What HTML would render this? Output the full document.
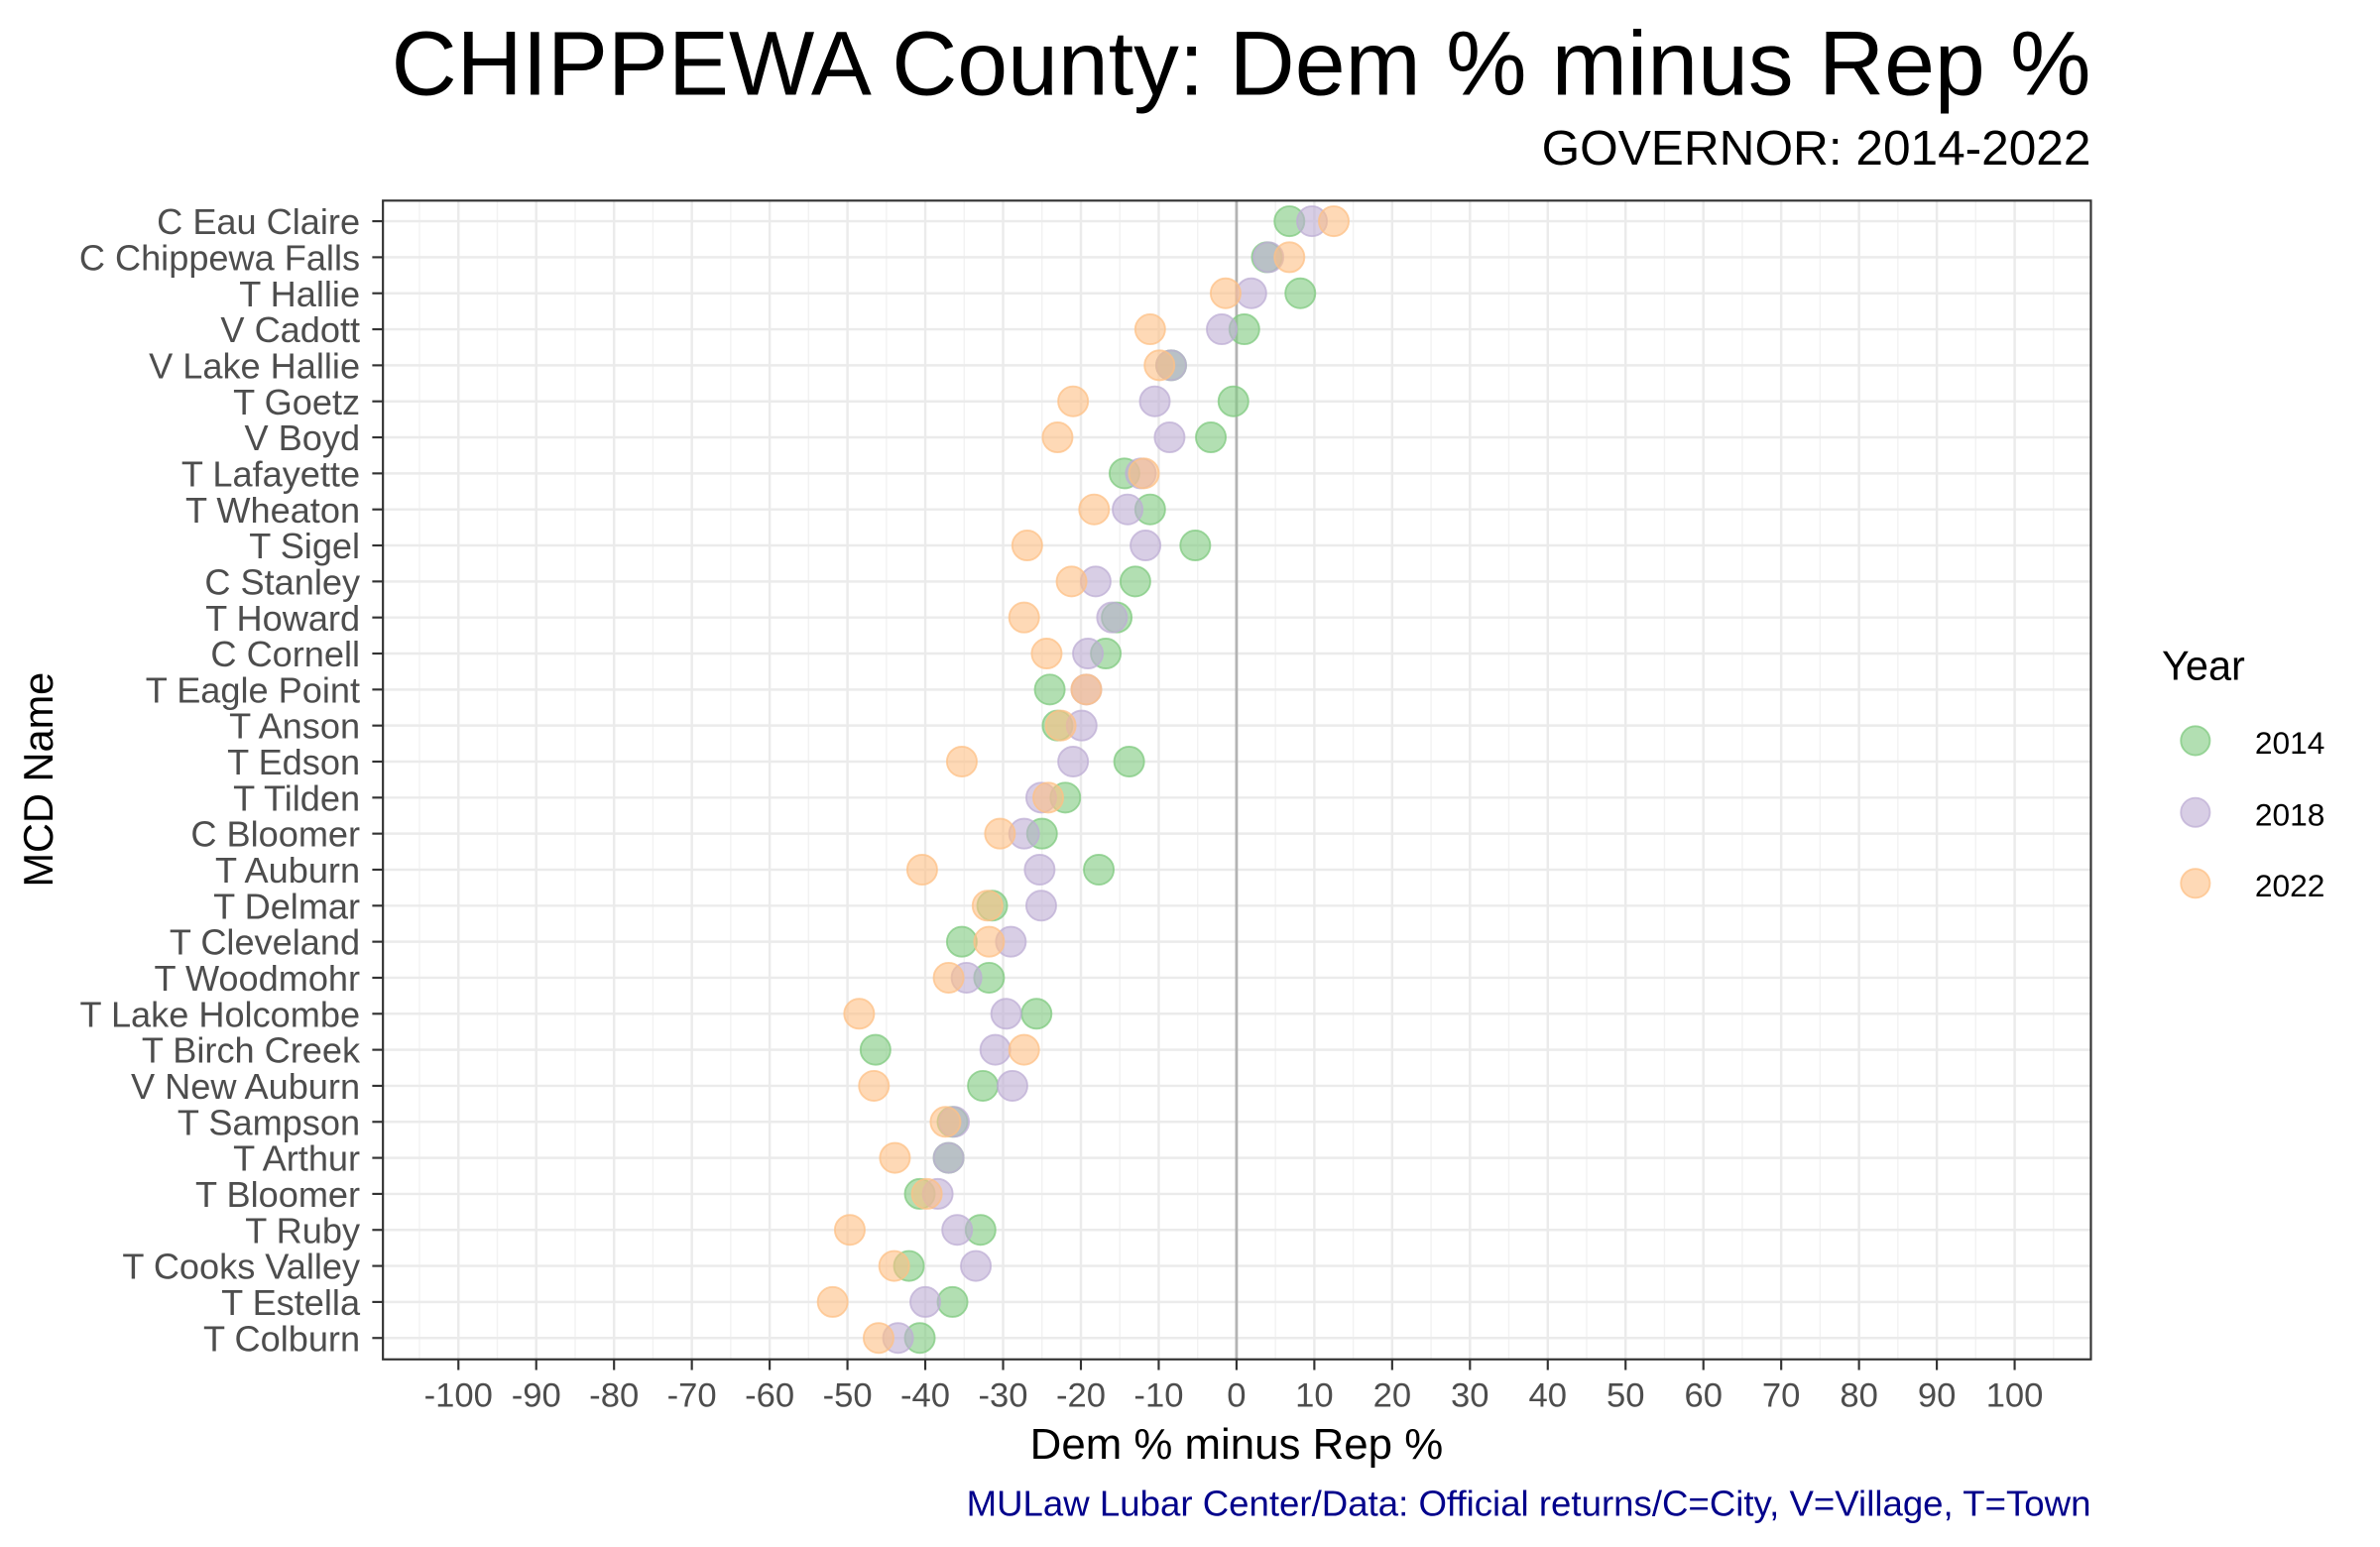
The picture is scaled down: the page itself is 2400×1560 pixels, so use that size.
<!DOCTYPE html>
<html><head><meta charset="utf-8">
<style>
html,body{margin:0;padding:0;background:#fff;}
svg{display:block;font-family:"Liberation Sans",Arial,sans-serif;}
</style></head>
<body>
<svg id="chart" width="2400" height="1560" viewBox="0 0 1560 1014" xmlns="http://www.w3.org/2000/svg">
<rect width="1560" height="1014" fill="#fff"/>
<text x="1370.5" y="62" text-anchor="end" font-size="60" fill="#000" textLength="1114" lengthAdjust="spacingAndGlyphs">CHIPPEWA County: Dem % minus Rep %</text>
<text x="1370.5" y="108" text-anchor="end" font-size="32" fill="#000" textLength="360" lengthAdjust="spacingAndGlyphs">GOVERNOR: 2014-2022</text>
<g id="grid"></g>
<g id="marks"></g>
<g id="axes"></g>
<text x="810.5" y="956" text-anchor="middle" font-size="28.5" fill="#000">Dem % minus Rep %</text>
<text transform="translate(34.5,511) rotate(-90)" text-anchor="middle" font-size="27" fill="#000">MCD Name</text>
<g>
<text x="1417" y="445.5" font-size="27" fill="#000">Year</text>
<circle cx="1439" cy="485.5" r="9.5" fill="#7FC97F" fill-opacity="0.6" stroke="#7FC97F" stroke-opacity="0.75" stroke-width="1.2"/>
<text x="1478" y="494" font-size="20.6" fill="#000">2014</text>
<circle cx="1439" cy="532.5" r="9.5" fill="#BEAED4" fill-opacity="0.6" stroke="#BEAED4" stroke-opacity="0.75" stroke-width="1.2"/>
<text x="1478" y="541" font-size="20.6" fill="#000">2018</text>
<circle cx="1439" cy="579" r="9.5" fill="#FDC086" fill-opacity="0.6" stroke="#FDC086" stroke-opacity="0.75" stroke-width="1.2"/>
<text x="1478" y="587.5" font-size="20.6" fill="#000">2022</text>
</g>
<text x="1370.5" y="993.5" text-anchor="end" font-size="23.7" fill="#00008B" textLength="737" lengthAdjust="spacingAndGlyphs">MULaw Lubar Center/Data: Official returns/C=City, V=Village, T=Town</text>
</svg>
<script>
const categories = ["C Eau Claire","C Chippewa Falls","T Hallie","V Cadott","V Lake Hallie","T Goetz","V Boyd","T Lafayette","T Wheaton","T Sigel","C Stanley","T Howard","C Cornell","T Eagle Point","T Anson","T Edson","T Tilden","C Bloomer","T Auburn","T Delmar","T Cleveland","T Woodmohr","T Lake Holcombe","T Birch Creek","V New Auburn","T Sampson","T Arthur","T Bloomer","T Ruby","T Cooks Valley","T Estella","T Colburn"];
const values2014 = [6.8,3.9,8.2,1.0,-8.4,-0.4,-3.3,-14.4,-11.1,-5.3,-13.0,-15.4,-16.8,-24.0,-23.0,-13.8,-22.0,-25.0,-17.7,-31.4,-35.3,-31.8,-25.7,-46.4,-32.6,-36.5,-37.0,-40.7,-32.9,-42.1,-36.5,-40.7];
const values2018 = [9.7,4.1,1.9,-1.9,-8.4,-10.5,-8.6,-12.3,-14.0,-11.7,-18.1,-16.0,-19.1,-19.3,-19.9,-21.0,-25.1,-27.3,-25.3,-25.1,-29.0,-34.7,-29.6,-31.0,-28.8,-36.3,-37.0,-38.4,-35.9,-33.5,-40.0,-43.5];
const values2022 = [12.5,6.8,-1.4,-11.1,-9.9,-21.0,-23.0,-11.9,-18.3,-26.9,-21.2,-27.3,-24.4,-19.3,-22.6,-35.3,-24.2,-30.4,-40.4,-32.0,-31.8,-37.0,-48.5,-27.3,-46.6,-37.4,-43.9,-39.8,-49.7,-44.0,-51.9,-46.0];
const xTicks = [-100,-90,-80,-70,-60,-50,-40,-30,-20,-10,0,10,20,30,40,50,60,70,80,90,100];

const NS="http://www.w3.org/2000/svg";
const L=251,R=1370.5,T=131.5,B=891;
const xDom=[-109.7,109.8];
function xs(v){return L+(v-xDom[0])/(xDom[1]-xDom[0])*(R-L);}
const rowTop=145,rowBot=877;
function ys(i){return rowTop+i*(rowBot-rowTop)/(categories.length-1);}
function mk(tag,attrs,parent){const e=document.createElementNS(NS,tag);for(const k in attrs)e.setAttribute(k,attrs[k]);parent.appendChild(e);return e;}

const grid=document.getElementById('grid'),marks=document.getElementById('marks'),axes=document.getElementById('axes');
for(let v=-105;v<=105;v+=10){const g=mk('line',{x1:xs(v),x2:xs(v),y1:T,y2:B,stroke:'#f2f2f2','stroke-width':0.9},grid);

}
xTicks.forEach(v=>{const g=mk('line',{x1:xs(v),x2:xs(v),y1:T,y2:B,stroke:'#ebebeb','stroke-width':1.6},grid);


const tk=mk('line',{x1:xs(v),x2:xs(v),y1:B,y2:B+7,stroke:'#333','stroke-width':1.4},axes);


const t=mk('text',{x:xs(v),y:922,'text-anchor':'middle','font-size':22.5,fill:'#4d4d4d'},axes);


t.textContent=v;});
categories.forEach((c,i)=>{const g=mk('line',{x1:L,x2:R,y1:ys(i),y2:ys(i),stroke:'#ebebeb','stroke-width':1.6},grid);


const tk=mk('line',{x1:L-7,x2:L,y1:ys(i),y2:ys(i),stroke:'#333','stroke-width':1.4},axes);


const t=mk('text',{x:236,y:ys(i)+8.5,'text-anchor':'end','font-size':23.5,fill:'#4d4d4d'},axes);


t.textContent=c;});
const zl=mk('line',{x1:xs(0),x2:xs(0),y1:T,y2:B,stroke:'#b3b3b3','stroke-width':1.8},grid);


const series=[[values2014,'#7FC97F','2014'],[values2018,'#BEAED4','2018'],[values2022,'#FDC086','2022']];
series.forEach(([vals,col,yr])=>{vals.forEach((v,i)=>{const p=mk('circle',{cx:xs(v),cy:ys(i),r:9.8,fill:col,'fill-opacity':0.6,stroke:col,'stroke-opacity':0.75,'stroke-width':1.2},marks);

});});
const frame=mk('rect',{x:L,y:T,width:R-L,height:B-T,fill:'none',stroke:'#333','stroke-width':1.4},axes);


</script>
</body></html>
